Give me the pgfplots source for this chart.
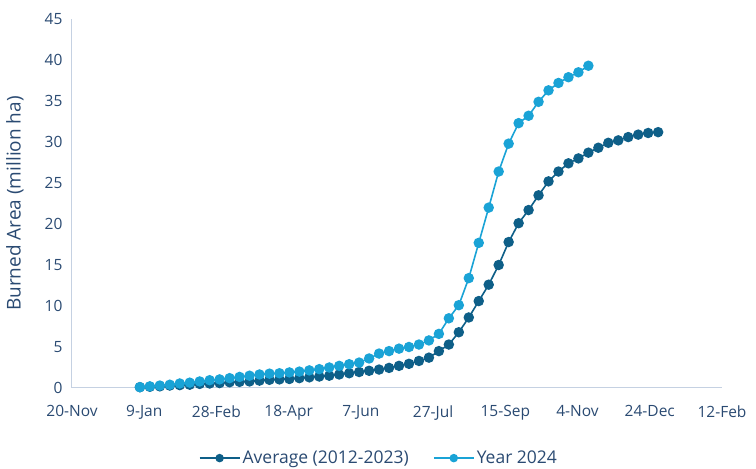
\documentclass[border=0pt]{standalone}
\usepackage{pgfplots}
\pgfplotsset{compat=1.18}
\usepackage{fontspec}
\setmainfont{Open Sans}

\definecolor{avgblue}{HTML}{0E5F88}
\definecolor{yearblue}{HTML}{1AA3D6}
\definecolor{txtblue}{HTML}{2A4A72}
\definecolor{axisgrey}{HTML}{C5D1E2}

% weekly cumulative burned area (million ha); x = days since 1 Jan 2024
\begin{document}
\begin{tikzpicture}[x=1pt,y=1pt]
\useasboundingbox (0,0) rectangle (756,469);
\begin{axis}[
  at={(72pt,81pt)}, anchor=south west,
  scale only axis, width=650pt, height=369pt,
  xmin=-42, xmax=408, ymin=0, ymax=45,
  xtick={-42,8,58,108,158,208,258,308,358,408},
  xticklabels={20-Nov,9-Jan,28-Feb,18-Apr,7-Jun,27-Jul,15-Sep,4-Nov,24-Dec,12-Feb},
  ytick={0,5,...,45},
  axis x line*=bottom, axis y line*=left,
  axis line style={axisgrey, line width=1pt, -},
  major tick length=0pt,
  tick label style={font=\fontsize{15.5}{17}\selectfont, text=txtblue},
  /pgf/number format/assume math mode=true,
  xticklabel style={yshift=-14pt},
  yticklabel style={xshift=-6pt},
  ylabel={Burned Area (million ha)},
  ylabel style={font=\fontsize{19}{21}\selectfont, text=txtblue, at={(axis description cs:-0.088,0.5)}, anchor=center},
  clip=false,
  legend columns=2,
  legend style={draw=none, fill=none, at={(axis description cs:0.472,-0.19)}, anchor=center,
    font=\fontsize{17.5}{19}\selectfont, text=txtblue,
    /tikz/every even column/.append style={column sep=22pt}},
  legend image code/.code={%
    \draw[#1, line width=2pt, mark size=3.2pt, mark repeat=2, mark phase=2] plot coordinates {(0pt,0pt) (20pt,0pt) (40pt,0pt)};},
]
\addplot[avgblue, line width=1.6pt, mark=*, mark size=4.4pt, mark options={fill=avgblue, draw=avgblue}]
coordinates {
(5,0.1)(11.9,0.15)(18.8,0.2)(25.7,0.3)(32.6,0.35)(39.5,0.4)(46.4,0.5)(53.3,0.55)(60.2,0.6)(67.1,0.7)
(74,0.75)(80.9,0.8)(87.8,0.9)(94.7,1.0)(101.6,1.05)(108.5,1.1)(115.4,1.2)(122.3,1.3)(129.2,1.4)(136.1,1.5)
(143,1.65)(149.9,1.8)(156.8,1.95)(163.7,2.1)(170.6,2.25)(177.5,2.45)(184.4,2.7)(191.3,2.95)(198.2,3.3)(205.1,3.7)
(212,4.5)(218.9,5.3)(225.8,6.8)(232.7,8.6)(239.6,10.6)(246.5,12.6)(253.4,15.0)(260.3,17.8)(267.2,20.1)(274.1,21.7)
(281,23.5)(287.9,25.2)(294.8,26.4)(301.7,27.4)(308.6,28.0)(315.5,28.7)(322.4,29.3)(329.3,29.9)(336.2,30.2)(343.1,30.6)
(350,30.9)(356.9,31.1)(363.8,31.2)
};
\addlegendentry{Average (2012-2023)}
\addplot[yearblue, line width=1.6pt, mark=*, mark size=4.4pt, mark options={fill=yearblue, draw=yearblue}]
coordinates {
(5,0.1)(11.9,0.2)(18.8,0.3)(25.7,0.4)(32.6,0.55)(39.5,0.65)(46.4,0.8)(53.3,0.95)(60.2,1.05)(67.1,1.2)
(74,1.35)(80.9,1.5)(87.8,1.65)(94.7,1.75)(101.6,1.8)(108.5,1.9)(115.4,2.0)(122.3,2.15)(129.2,2.3)(136.1,2.5)
(143,2.7)(149.9,2.9)(156.8,3.1)(163.7,3.6)(170.6,4.2)(177.5,4.5)(184.4,4.8)(191.3,5.0)(198.2,5.3)(205.1,5.8)
(212,6.6)(218.9,8.5)(225.8,10.1)(232.7,13.4)(239.6,17.7)(246.5,22.0)(253.4,26.4)(260.3,29.8)(267.2,32.3)(274.1,33.2)
(281,34.9)(287.9,36.3)(294.8,37.2)(301.7,37.9)(308.6,38.5)(315.5,39.3)
};
\addlegendentry{Year 2024}
\end{axis}
\end{tikzpicture}
\end{document}
